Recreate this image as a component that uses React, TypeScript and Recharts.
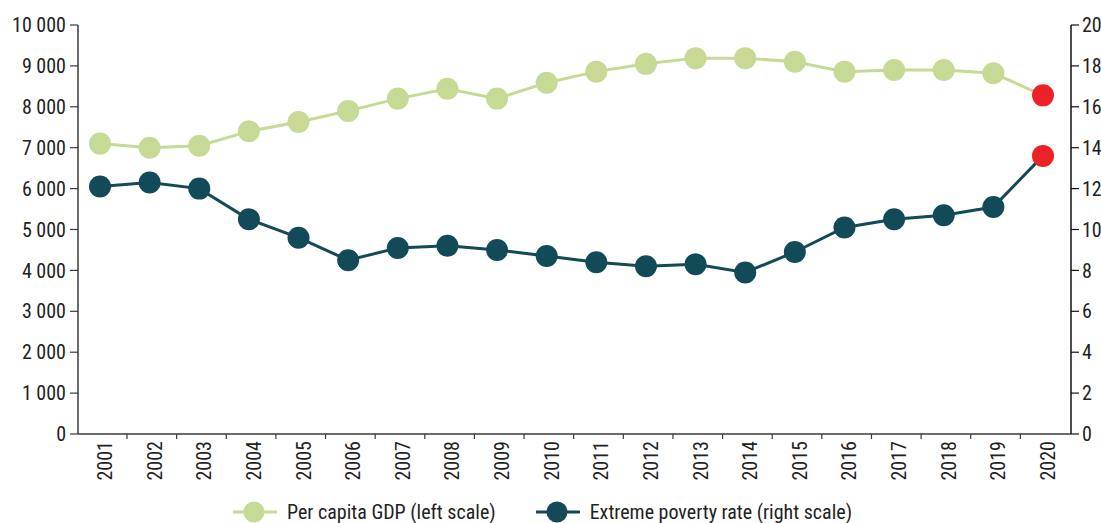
import { LineChart, Line, XAxis, YAxis, Legend } from 'recharts'

const years = [
  '2001', '2002', '2003', '2004', '2005', '2006', '2007', '2008', '2009', '2010',
  '2011', '2012', '2013', '2014', '2015', '2016', '2017', '2018', '2019', '2020',
]

// per capita GDP, left scale
const gdp = [
  7100, 7000, 7050, 7400, 7630, 7900, 8200, 8440, 8200, 8590,
  8860, 9050, 9190, 9190, 9100, 8860, 8900, 8900, 8820, 8280,
]

// extreme poverty rate (%), right scale
const poverty = [
  12.1, 12.3, 12.0, 10.5, 9.6, 8.5, 9.1, 9.2, 9.0, 8.7,
  8.4, 8.2, 8.3, 7.9, 8.9, 10.1, 10.5, 10.7, 11.1, 13.6,
]

const leftTicks = [0, 1000, 2000, 3000, 4000, 5000, 6000, 7000, 8000, 9000, 10000]
const rightTicks = [0, 2, 4, 6, 8, 10, 12, 14, 16, 18, 20]

const data = years.map((year, i) => ({ year, gdp: gdp[i], poverty: poverty[i] }))

const W = 1101
const H = 523
const LEFT_W = 78
const RIGHT_W = 30

const FONT = '"Roboto Condensed", "DejaVu Sans Condensed", "Liberation Sans Narrow", Roboto, sans-serif'
const GREEN = '#c6da95'
const TEAL = '#124a58'
const RED = '#ec2227'
const AXIS = '#3a3a3a'
const TEXT = '#222'

const fmtThousands = (v: number) => String(v).replace(/\B(?=(\d{3})+(?!\d))/g, ' ')

const makeDot = (color: string) => (props: any) => {
  const { cx, cy, index } = props
  if (cx == null || cy == null) return <g key={index} />
  return (
    <circle
      key={index}
      cx={cx}
      cy={cy}
      r={11}
      fill={index === years.length - 1 ? RED : color}
      stroke="none"
    />
  )
}

// year labels plus the small separator marks between categories
const YearTick = (props: any) => {
  const { x, y, payload, index } = props
  const last = index === years.length - 1
  return (
    <g>
      {!last && (
        <line x1={x + 27} x2={x + 27} y1={y - 7} y2={y - 2} stroke={AXIS} strokeWidth={1.2} />
      )}
      <text
        transform={`translate(${x + 5},${y}) rotate(-90)`}
        textAnchor="end"
        dominantBaseline="central"
        fontSize={20}
        fontFamily={FONT}
        style={{ fontStretch: 'condensed' }}
        fill={TEXT}
      >
        {payload.value}
      </text>
    </g>
  )
}

const LegendIcon = ({ color }: { color: string }) => (
  <svg width={44} height={24} style={{ display: 'block' }}>
    <line x1={0} x2={44} y1={12} y2={12} stroke={color} strokeWidth={3} />
    <circle cx={21} cy={12} r={10.5} fill={color} />
  </svg>
)

const CustomLegend = () => (
  <div
    style={{
      height: 34,
      display: 'flex',
      alignItems: 'flex-end',
      paddingLeft: 233,
      fontFamily: FONT,
      fontStretch: 'condensed',
      fontSize: 20,
      color: TEXT,
      boxSizing: 'border-box',
    }}
  >
    <div style={{ display: 'flex', alignItems: 'center', gap: 10, marginBottom: -1 }}>
      <LegendIcon color={GREEN} />
      <span>Per capita GDP (left scale)</span>
    </div>
    <div style={{ display: 'flex', alignItems: 'center', gap: 10, marginLeft: 40, marginBottom: -1 }}>
      <LegendIcon color={TEAL} />
      <span>Extreme poverty rate (right scale)</span>
    </div>
  </div>
)

const tickStyle = { fontSize: 20, fontFamily: FONT, fill: TEXT, style: { fontStretch: 'condensed' } }

export default function App() {
  return (
    <div style={{ position: 'absolute', left: 0, top: 0, width: W, height: H, background: '#fff', fontStretch: 'condensed' }}>
      <LineChart
        width={W}
        height={H}
        data={data}
        margin={{ top: 25, right: 0, left: 0, bottom: 0 }}
      >
        <XAxis
          dataKey="year"
          interval={0}
          height={55}
          padding={{ left: 22, right: 28 }}
          tickSize={5}
          tickMargin={2}
          tickLine={false}
          axisLine={{ stroke: AXIS, strokeWidth: 1.5 }}
          tick={<YearTick />}
        />
        <YAxis
          yAxisId="left"
          width={LEFT_W}
          domain={[0, 10000]}
          ticks={leftTicks}
          interval={0}
          tickSize={8}
          tickMargin={4}
          tickFormatter={fmtThousands}
          axisLine={{ stroke: AXIS, strokeWidth: 1.5 }}
          tickLine={{ stroke: AXIS, strokeWidth: 1.2 }}
          tick={tickStyle}
        />
        <YAxis
          yAxisId="right"
          orientation="right"
          width={RIGHT_W}
          domain={[0, 20]}
          ticks={rightTicks}
          interval={0}
          tickSize={8}
          tickMargin={3}
          axisLine={{ stroke: '#111', strokeWidth: 1.5 }}
          tickLine={{ stroke: '#111', strokeWidth: 1.2 }}
          tick={{ ...tickStyle, textAnchor: 'start' }}
        />
        <Legend verticalAlign="bottom" content={<CustomLegend />} wrapperStyle={{ left: 0, width: W }} />
        <Line
          yAxisId="left"
          dataKey="gdp"
          name="Per capita GDP (left scale)"
          stroke={GREEN}
          strokeWidth={3}
          dot={makeDot(GREEN)}
          activeDot={false}
          isAnimationActive={false}
        />
        <Line
          yAxisId="right"
          dataKey="poverty"
          name="Extreme poverty rate (right scale)"
          stroke={TEAL}
          strokeWidth={3}
          dot={makeDot(TEAL)}
          activeDot={false}
          isAnimationActive={false}
        />
      </LineChart>
    </div>
  )
}
